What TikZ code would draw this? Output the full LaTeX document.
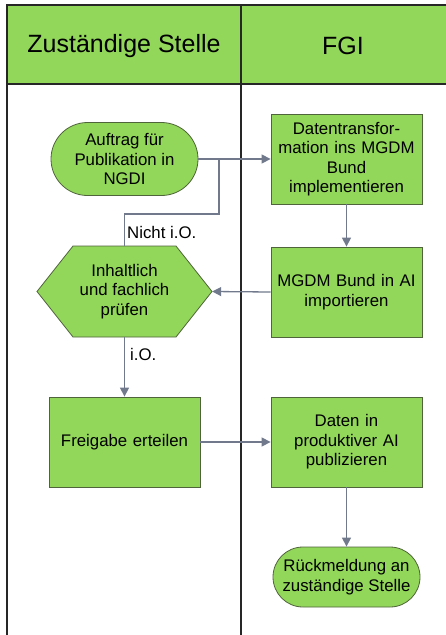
\documentclass[tikz,border=0pt]{standalone}
\usepackage{fontspec}
\setmainfont{Liberation Sans}
\usetikzlibrary{arrows.meta,shapes.geometric,shapes.misc}
\definecolor{lanegreen}{RGB}{146,214,90}
\definecolor{boxgreen}{RGB}{146,214,90}
\definecolor{boxedge}{RGB}{80,100,60}
\definecolor{arrowgray}{RGB}{112,122,140}
\tikzset{
  x=1pt,y=-1pt,
  txt/.style={font=\fontsize{16.8}{19.5}\selectfont, align=center, text=black},
  procbox/.style={txt, draw=boxedge, fill=boxgreen, line width=0.8pt, minimum width=151pt, minimum height=90pt, inner sep=2pt, text width=147pt},
  termbox/.style={txt, draw=boxedge, fill=boxgreen, line width=0.8pt, rounded rectangle, minimum width=151pt, inner sep=2pt},
  hexbox/.style={txt, draw=boxedge, fill=boxgreen, line width=0.8pt},
  flow/.style={draw=arrowgray, line width=1.3pt, -{Triangle[length=9pt,width=9pt]}},
  flowplain/.style={draw=arrowgray, line width=1.3pt},
  lane/.style={draw=black!85, line width=1.3pt},
  lbl/.style={font=\fontsize{16.8}{19.5}\selectfont, text=black, inner sep=0pt}
}
\begin{document}
\begin{tikzpicture}
\useasboundingbox (0,0) rectangle (446,635);
% lanes
\fill[lanegreen] (7,5) rectangle (446,84);
\draw[lane] (446,5) -- (7,5) -- (7,635);
\draw[lane] (7,84) -- (446,84);
\draw[lane] (241,5) -- (241,635);
\node[lbl, font=\fontsize{25}{30}\selectfont] (h1) at (124,46) {Zuständige Stelle};
\node[lbl, font=\fontsize{25}{30}\selectfont] (h2) at (343,46) {FGI};
% nodes
\node[termbox, minimum height=73pt] (auftrag) at (124.5,159) {Auftrag für\\Publikation in\\NGDI};
\node[procbox] (trans) at (346.5,159) {Datentransfor-\\mation ins MGDM\\Bund\\implementieren};
\node[procbox] (mgdm) at (346.5,292) {MGDM Bund in AI\\importieren};
\path[hexbox] (37,291.5) -- (73,246) -- (176,246) -- (212,291.5) -- (176,337) -- (73,337) -- cycle;
\node[txt, inner sep=0pt, minimum width=175pt, minimum height=91pt] (pruef) at (124.5,291.5) {Inhaltlich\\und fachlich\\prüfen};
\node[procbox] (freigabe) at (124.5,442) {Freigabe erteilen};
\node[procbox] (daten) at (346.5,442) {Daten in\\produktiver AI\\publizieren};
\node[termbox, minimum height=60pt] (rueck) at (346.5,577) {Rückmeldung an\\zuständige Stelle};
% connectors
\coordinate (j1) at (219,159);
\coordinate (j2) at (219,214);
\coordinate (j3) at (124.5,214);
\draw[flow] (auftrag.east) -- (trans.west);
\draw[flowplain] (pruef.north) -- (j3) -- (j2) -- (j1);
\draw[flow] (trans.south) -- (mgdm.north);
\draw[flow] (mgdm.west) -- (pruef.east);
\draw[flow] (pruef.south) -- (freigabe.north);
\draw[flow] (freigabe.east) -- (daten.west);
\draw[flow] (daten.south) -- (rueck.north);
\node[lbl, anchor=west] (nio) at (127,232) {Nicht i.O.};
\node[lbl, anchor=west] (io) at (130,354) {i.O.};
\end{tikzpicture}
\end{document}
